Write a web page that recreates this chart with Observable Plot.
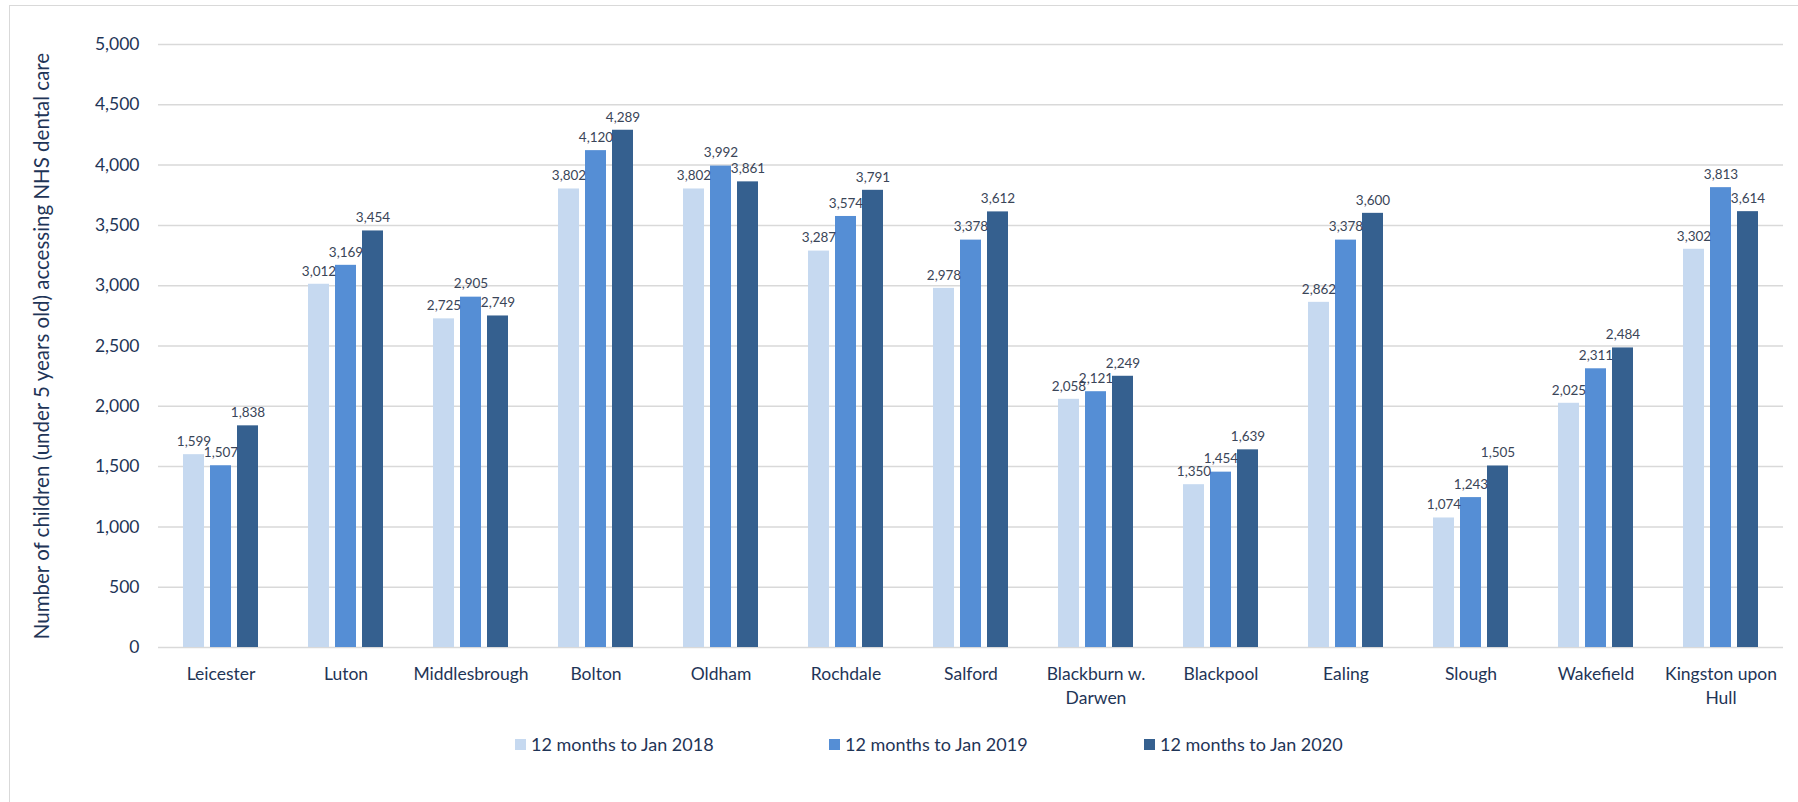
<!DOCTYPE html>
<html>
<head>
<meta charset="utf-8">
<script src="https://cdn.jsdelivr.net/npm/d3@7"></script>
<script src="https://cdn.jsdelivr.net/npm/@observablehq/plot@0.6"></script>
<style>
  html, body { margin: 0; padding: 0; background: #fff; }
  #wrap { position: relative; width: 1798px; height: 802px; overflow: hidden; font-family: Lato, "Open Sans", sans-serif; }
  #frame { position: absolute; left: 9px; top: 5px; width: 1800px; height: 820px; border-left: 1.5px solid #d9d9d9; border-top: 1.5px solid #d9d9d9; box-sizing: border-box; }
  #chart { position: absolute; left: 0; top: 0; }
  .leg { position: absolute; top: 733px; display: flex; align-items: center; font-size: 18px; color: #1f3557; white-space: nowrap; }
  .leg span.sw { display: inline-block; width: 11px; height: 11px; margin-right: 5px; }
</style>
</head>
<body>
<div id="wrap">
  <div id="frame"></div>
  <div id="chart"></div>
  <div id="legend"></div>
</div>
<script>
const cities = ["Leicester", "Luton", "Middlesbrough", "Bolton", "Oldham", "Rochdale", "Salford",
  "Blackburn w. Darwen", "Blackpool", "Ealing", "Slough", "Wakefield", "Kingston upon Hull"];
const cityLabels = ["Leicester", "Luton", "Middlesbrough", "Bolton", "Oldham", "Rochdale", "Salford",
  "Blackburn w.\nDarwen", "Blackpool", "Ealing", "Slough", "Wakefield", "Kingston upon\nHull"];
const seriesNames = ["12 months to Jan 2018", "12 months to Jan 2019", "12 months to Jan 2020"];
const jan2018 = [1599, 3012, 2725, 3802, 3802, 3287, 2978, 2058, 1350, 2862, 1074, 2025, 3302];
const jan2019 = [1507, 3169, 2905, 4120, 3992, 3574, 3378, 2121, 1454, 3378, 1243, 2311, 3813];
const jan2020 = [1838, 3454, 2749, 4289, 3861, 3791, 3612, 2249, 1639, 3600, 1505, 2484, 3614];
const colors = ["#C6D9F0", "#558ED5", "#35608F"];
const yTicks = [0, 500, 1000, 1500, 2000, 2500, 3000, 3500, 4000, 4500, 5000];
const yTitle = "Number of children (under 5 years old) accessing NHS dental care";

const seriesValues = [jan2018, jan2019, jan2020];
const rows = [];
cities.forEach((c, i) => seriesNames.forEach((s, j) => rows.push({city: c, series: s, value: seriesValues[j][i]})));
const fmt = d3.format(",");
const labelOf = new Map(cities.map((c, i) => [c, cityLabels[i]]));

const chart = Plot.plot({
  width: 1798,
  height: 720,
  marginLeft: 152,
  marginRight: 10,
  marginTop: 44,
  marginBottom: 73,
  style: {fontFamily: "Lato, 'Open Sans', sans-serif", fontSize: "17.5px", color: "#1f3557", background: "transparent", overflow: "visible"},
  fx: {domain: cities, paddingInner: 0, paddingOuter: 0, label: null, axis: null},
  x: {domain: seriesNames, paddingInner: 0.232, paddingOuter: 0.863, axis: null},
  y: {domain: [0, 5000], axis: null},
  color: {domain: seriesNames, range: colors},
  marks: [
    Plot.gridY(yTicks, {stroke: "#d9d9d9", strokeOpacity: 1, strokeWidth: 1.5}),
    Plot.axisY({ticks: yTicks, anchor: "left", tickSize: 0, tickPadding: 19, tickFormat: fmt,
      label: null, fill: "#1f3557"}),
    Plot.axisY({ticks: [], anchor: "left", tickSize: 0, label: yTitle, labelAnchor: "center",
      labelOffset: 124, labelArrow: "none", fill: "#1f3557", fontSize: 20.5}),
    Plot.axisFx({anchor: "bottom", tickSize: 0, tickPadding: 16, tickFormat: d => labelOf.get(d), label: null, fill: "#1f3557", lineHeight: 1.35}),
    Plot.barY(rows, {fx: "city", x: "series", y: "value", fill: "series"}),
    Plot.text(rows, {fx: "city", x: "series", y: "value", text: d => fmt(d.value), dy: -13, fontSize: 13.5, fill: "#3a4558"})
  ]
});
document.getElementById("chart").appendChild(chart);

const legendLefts = [515, 829, 1144];
const legend = document.getElementById("legend");
seriesNames.forEach((s, i) => {
  const item = document.createElement("div");
  item.className = "leg";
  item.style.left = legendLefts[i] + "px";
  const sw = document.createElement("span");
  sw.className = "sw";
  sw.style.background = colors[i];
  item.appendChild(sw);
  item.appendChild(document.createTextNode(s));
  legend.appendChild(item);
});
</script>
</body>
</html>
